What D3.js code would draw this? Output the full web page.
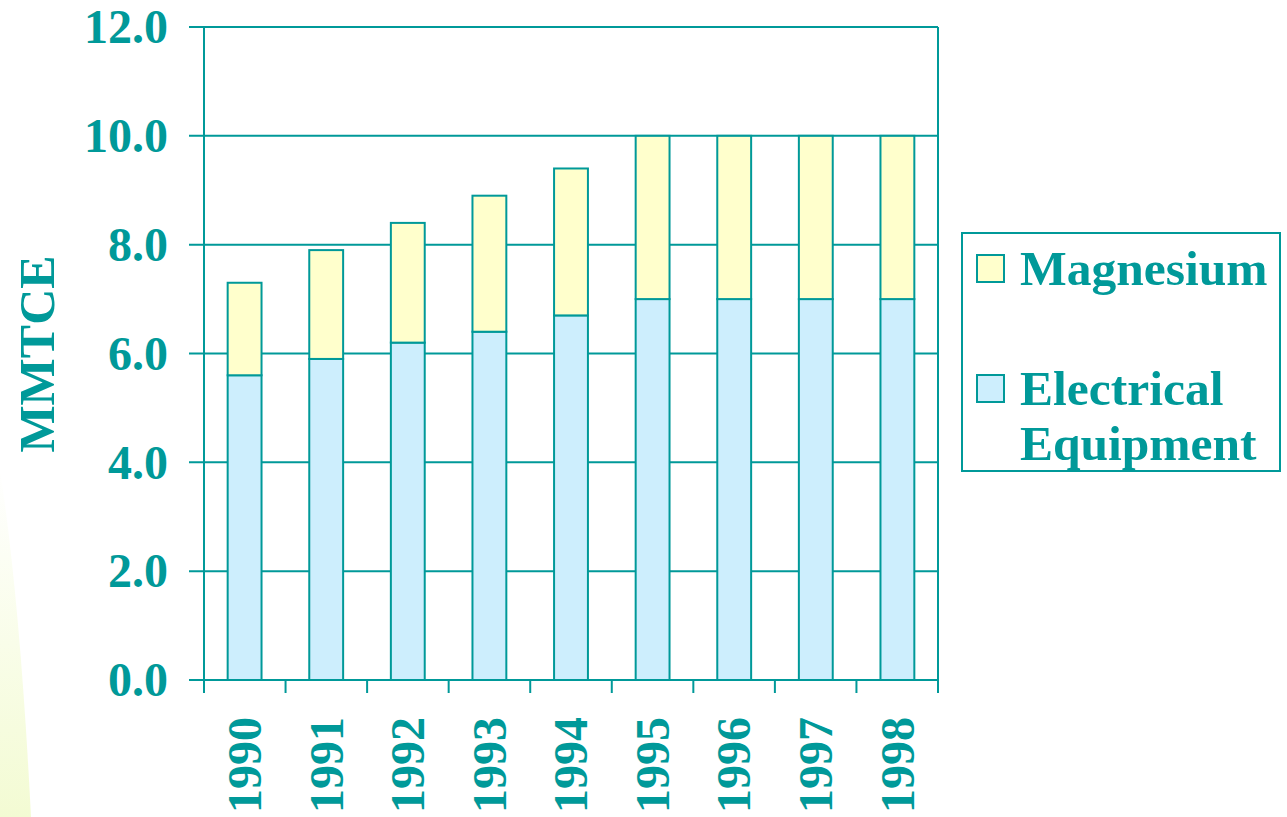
<!DOCTYPE html>
<html><head><meta charset="utf-8">
<script src="https://cdn.jsdelivr.net/npm/d3@7"></script>
<style>html,body{margin:0;padding:0;background:#fff;overflow:hidden}</style>
</head><body>
<svg id="c" width="1287" height="817"></svg>
<script>
const years = ["1990","1991","1992","1993","1994","1995","1996","1997","1998"];
const electrical = [5.6, 5.9, 6.2, 6.4, 6.7, 7.0, 7.0, 7.0, 7.0];
const magnesium = [1.7, 2.0, 2.2, 2.5, 2.7, 3.0, 3.0, 3.0, 3.0];
const yTicks = [0, 2, 4, 6, 8, 10, 12];
const seriesNames = ["Electrical Equipment", "Magnesium"];

(function(){
const teal = "#009999";
const font = "'Liberation Serif','Times New Roman',serif";
const svg = d3.select("#c");

// background decoration
const defs = svg.append("defs");
const grad = defs.append("linearGradient").attr("id","bg").attr("x1",0).attr("y1",0).attr("x2",0).attr("y2",1);
grad.append("stop").attr("offset","0%").attr("stop-color","#ffffff");
grad.append("stop").attr("offset","100%").attr("stop-color","#f3fbd3");
svg.append("path").attr("d","M0,470 Q20,600 31,817 L0,817 Z").attr("fill","url(#bg)");

const pL = 204, pR = 938, pT = 27, pB = 680;
const x = d3.scaleBand().domain(years).range([pL, pR]).paddingInner(0.585).paddingOuter(0.29);
const xb = d3.scaleBand().domain(years).range([pL, pR]);
const y = d3.scaleLinear().domain([0, 12]).range([pB, pT]);

// gridlines + ticks
svg.append("g").selectAll("line").data(yTicks).join("line")
  .attr("x1", pL - 15).attr("x2", pR).attr("y1", d => y(d)).attr("y2", d => y(d))
  .attr("stroke", teal).attr("stroke-width", 2);

// y labels
svg.append("g").selectAll("text").data(yTicks).join("text")
  .attr("x", 168).attr("y", d => y(d)).attr("dy", "0.34em")
  .attr("text-anchor", "end").attr("font-family", font).attr("font-weight", "bold")
  .attr("font-size", 48).attr("fill", teal).text(d => d.toFixed(1));

// bars
const stackData = years.map((yr, i) => ({year: yr, "Electrical Equipment": electrical[i], "Magnesium": magnesium[i]}));
const stacked = d3.stack().keys(seriesNames)(stackData);
const fills = {"Electrical Equipment": "#cdeefd", "Magnesium": "#ffffcc"};
svg.append("g").selectAll("g").data(stacked).join("g")
  .attr("fill", d => fills[d.key])
  .selectAll("rect").data(d => d).join("rect")
  .attr("x", d => x(d.data.year)).attr("width", x.bandwidth())
  .attr("y", d => y(d[1])).attr("height", d => y(d[0]) - y(d[1]))
  .attr("stroke", teal).attr("stroke-width", 2);

// axes frame
svg.append("line").attr("x1", pL).attr("x2", pL).attr("y1", pT).attr("y2", pB + 13).attr("stroke", teal).attr("stroke-width", 2);
svg.append("line").attr("x1", pR).attr("x2", pR).attr("y1", pT).attr("y2", pB + 13).attr("stroke", teal).attr("stroke-width", 2);
svg.append("g").selectAll("line").data(years.slice(1)).join("line")
  .attr("x1", d => xb(d)).attr("x2", d => xb(d)).attr("y1", pB).attr("y2", pB + 13)
  .attr("stroke", teal).attr("stroke-width", 2);

// x labels
svg.append("g").selectAll("text").data(years).join("text")
  .attr("transform", d => `translate(${xb(d) + xb.bandwidth()/2},717) rotate(-90)`)
  .attr("dy", "0.34em").attr("text-anchor", "end")
  .attr("font-family", font).attr("font-weight", "bold").attr("font-size", 48)
  .attr("fill", teal).text(d => d);

// y axis title
svg.append("text").attr("transform", "translate(37,354) rotate(-90)")
  .attr("dy", "0.34em").attr("text-anchor", "middle")
  .attr("font-family", font).attr("font-weight", "bold").attr("font-size", 50)
  .attr("fill", teal).text("MMTCE");

// legend
const lg = svg.append("g");
lg.append("rect").attr("x", 962).attr("y", 233).attr("width", 318).attr("height", 238)
  .attr("fill", "#fff").attr("stroke", teal).attr("stroke-width", 2);
const legendItems = [
  {name: "Magnesium", lines: ["Magnesium"], sy: 255},
  {name: "Electrical Equipment", lines: ["Electrical", "Equipment"], sy: 375}
];
legendItems.forEach(it => {
  lg.append("rect").attr("x", 977).attr("y", it.sy).attr("width", 27).attr("height", 27)
    .attr("fill", fills[it.name]).attr("stroke", teal).attr("stroke-width", 2);
  const t = lg.append("text").attr("x", 1020).attr("y", it.sy + 30)
    .attr("font-family", font).attr("font-weight", "bold").attr("font-size", 49.5).attr("fill", teal);
  it.lines.forEach((ln, k) => t.append("tspan").attr("x", 1020).attr("dy", k ? 55 : 0).text(ln));
});
})();
</script>
</body></html>
